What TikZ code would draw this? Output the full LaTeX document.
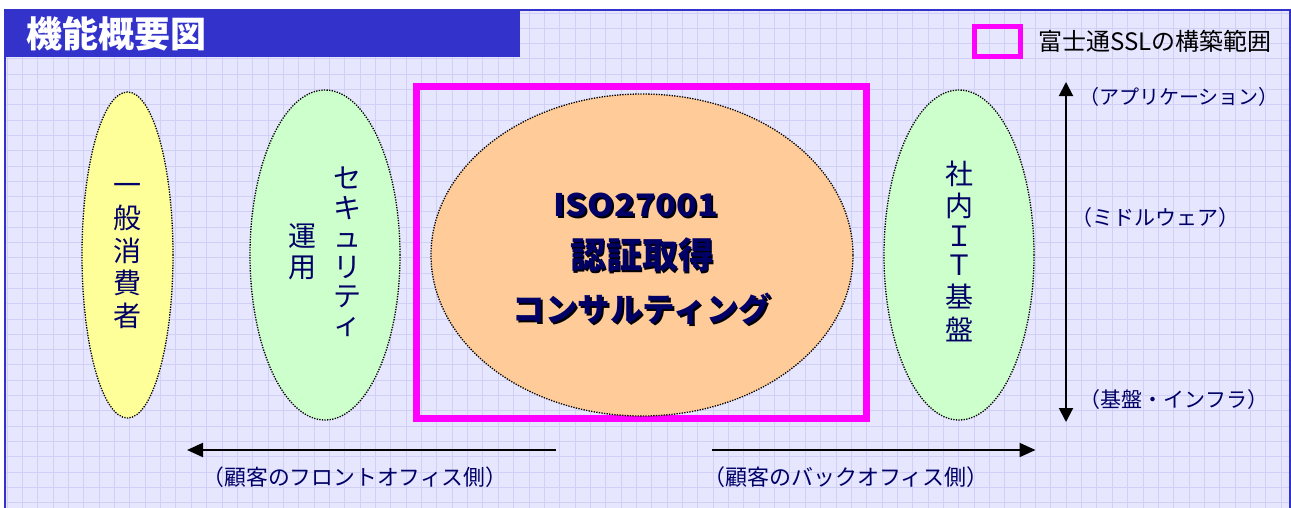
\documentclass[tikz,border=0pt]{standalone}
\usepackage{fontspec}
\usepackage{graphicx}
\setmainfont{Noto Sans CJK JP}
\usetikzlibrary{arrows.meta,shapes.geometric}
\definecolor{bgc}{RGB}{230,230,255}
\definecolor{gridc}{RGB}{208,208,246}
\definecolor{framec}{RGB}{51,51,204}
\definecolor{navy}{RGB}{0,0,102}
\definecolor{mag}{RGB}{255,0,255}
\definecolor{yel}{RGB}{255,255,153}
\definecolor{grn}{RGB}{204,255,204}
\definecolor{org}{RGB}{255,204,153}
\newcommand\vcol[2]{{\fontsize{28}{#1}\selectfont\begin{tabular}{@{}c@{}}#2\end{tabular}}}
\newcommand\shtext[1]{\leavevmode\rlap{\kern1.6pt\raisebox{-1.6pt}{\color{black}#1}}#1}
\begin{document}
\begin{tikzpicture}[x=1pt,y=-1pt,
  oval/.style={ellipse, draw=black, line width=1.3pt, dash pattern=on 1.3pt off 1.3pt, inner sep=0pt, text=navy},
  arr/.style={line width=2pt, black},
  lbl/.style={text=navy, inner sep=0pt},
  ctext/.style={text=navy, inner sep=0pt, font=\bfseries},
  magbox/.style={draw=mag, inner sep=0pt}]
\useasboundingbox (0,0) rectangle (1291,507);
% frame and grid
\fill[bgc] (5,10) rectangle (1289.5,520);
\foreach \i in {0,...,83} \draw[gridc, line width=0.8pt] ({7+15.35*\i},10) -- ({7+15.35*\i},520);
\foreach \j in {0,...,32} \draw[gridc, line width=0.8pt] (5,{12.9+15.3*\j}) -- (1289.5,{12.9+15.3*\j});
\draw[framec, line width=2pt] (5,10) rectangle (1289.5,520);
\fill[framec] (5,10) rectangle (520,57);
\node[anchor=west, text=white, inner sep=0pt, font=\fontsize{36}{36}\selectfont\bfseries] (title) at (26,34) {機能概要図};
% legend
\node[magbox, line width=5pt, minimum width=45.5, minimum height=30.5] (legbox) at (997.25,41.25) {};
\node[anchor=west, inner sep=0pt, font=\fontsize{24}{24}\selectfont] (legtext) at (1038,41) {富士通SSLの構築範囲};
% scope box
\node[magbox, line width=7pt, minimum width=450, minimum height=332] (scope) at (641.5,252.5) {};
% ellipses
\node[oval, fill=yel, minimum width=91, minimum height=326] (consumer) at (127.5,255) {\vcol{30.5}{一\\般\\消\\費\\者}};
\node[oval, fill=grn, minimum width=150, minimum height=330] (secops) at (325,255) {\vcol{31}{運\\用}\hspace{17pt}\vcol{28.5}{セ\\キ\\ュ\\リ\\テ\\ィ}};
\node[oval, fill=grn, minimum width=150, minimum height=330] (itbase) at (959,255) {\vcol{29.5}{社\\内\\Ｉ\\Ｔ\\基\\盤}};
\node[oval, fill=org, minimum width=422, minimum height=322] (iso) at (642,255) {};
\node[ctext, font=\fontsize{31}{31}\selectfont\bfseries] (isotext) at (636,206) {\scalebox{1.1}[1]{\shtext{ISO27001}}};
\node[ctext, font=\fontsize{36}{36}\selectfont\bfseries] (certtext) at (642,256) {\shtext{認証取得}};
\node[ctext, font=\fontsize{32.5}{32.5}\selectfont\bfseries] (constext) at (642,310) {\shtext{コンサルティング}};
% vertical axis
\coordinate (vtop) at (1066,82);
\coordinate (vbot) at (1066,422);
\draw[arr, {Triangle[length=14pt,width=14pt]}-{Triangle[length=14pt,width=14pt]}] (vtop) -- (vbot);
\node[lbl, font=\fontsize{20}{20}\selectfont] (app) at (1179,97) {（アプリケーション）};
\node[lbl, font=\fontsize{21}{21}\selectfont] (mid) at (1155.5,218) {（ミドルウェア）};
\node[lbl, font=\fontsize{21}{21}\selectfont] (infra) at (1174,400) {（基盤・インフラ）};
% horizontal arrows
\coordinate (ftail) at (556,450);
\coordinate (fhead) at (187,450);
\draw[arr, -{Triangle[length=16pt,width=14pt]}] (ftail) -- (fhead);
\coordinate (btail) at (712,450);
\coordinate (bhead) at (1035.5,450);
\draw[arr, -{Triangle[length=16pt,width=14pt]}] (btail) -- (bhead);
\node[lbl, font=\fontsize{21.8}{21.8}\selectfont] (front) at (355,477) {（顧客のフロントオフィス側）};
\node[lbl, font=\fontsize{22}{22}\selectfont] (back) at (846,477) {（顧客のバックオフィス側）};
\end{tikzpicture}
\end{document}
